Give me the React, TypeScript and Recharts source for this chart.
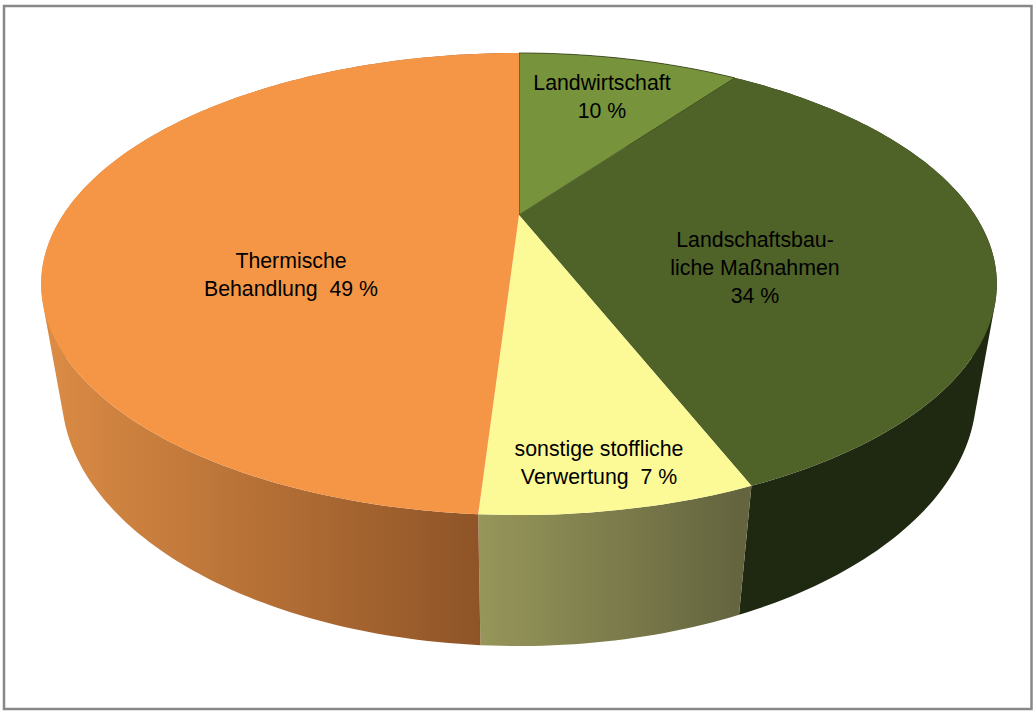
import { PieChart, Pie } from 'recharts';

const categories = [
  'Landwirtschaft',
  'Landschaftsbauliche Maßnahmen',
  'sonstige stoffliche Verwertung',
  'Thermische Behandlung',
];
const shares = [10, 34, 7, 49];
const labelLines = [
  ['Landwirtschaft', '10 %'],
  ['Landschaftsbau-', 'liche Maßnahmen', '34 %'],
  ['sonstige stoffliche', 'Verwertung  7 %'],
  ['Thermische', 'Behandlung  49 %'],
];

const topColors = ['#77933c', '#4f6228', '#fcfa96', '#f59646'];
const wallLeftColors = ['#3d4c1e', '#1f2810', '#96965a', '#dc8c45'];
const wallRightColors = ['#3d4c1e', '#1f2810', '#64643f', '#8e5427'];
const wallRanges = [[519, 735], [739, 997], [481, 739], [41, 481]];
// label centre x and first baseline y for each slice
const labelAnchors = [[602, 90], [755, 247], [599, 456], [291, 268]];

const chartData = categories.map((name, i) => ({ name, share: shares[i] }));

const WIDTH = 1035;
const HEIGHT = 711;
const CX = 519;
const CY = 215;
const RADIUS = 456;

// 3D perspective of the disc: nearer points grow, the wall runs to a vanishing point below
const TILT_Y = 146.2;
const TILT_W = -0.2987;
const WALL_W = 0.0406;
const WALL_Y = 118.1;

const project = (cx: number, cy: number, r: number, deg: number, wall = false) => {
  const rad = (deg * Math.PI) / 180;
  const ux = Math.cos(rad);
  const uy = -Math.sin(rad);
  const w = 1 + TILT_W * uy + (wall ? WALL_W : 0);
  return {
    x: cx + (r * ux) / w,
    y: (cy + TILT_Y * uy + (wall ? WALL_Y : 0)) / w,
  };
};

const rimAngles = (start: number, end: number) => {
  const steps = Math.max(2, Math.ceil(Math.abs(end - start)));
  return Array.from({ length: steps + 1 }, (_, i) => start + ((end - start) * i) / steps);
};

function TopSector(props: any) {
  const { cx, cy, outerRadius, startAngle, endAngle, index } = props;
  const rim = rimAngles(startAngle, endAngle).map((a) => project(cx, cy, outerRadius, a));
  const d = `M${cx},${cy} ` + rim.map((p) => `L${p.x},${p.y}`).join(' ') + ' Z';
  // only the small green wedge has a visible dark outline
  const outlined = index === 0;
  return (
    <path
      d={d}
      fill={topColors[index]}
      stroke={outlined ? '#2f3a18' : 'none'}
      strokeWidth={outlined ? 1 : 0}
      strokeOpacity={0.75}
    />
  );
}

function WallSector(props: any) {
  const { cx, cy, outerRadius, startAngle, endAngle, index } = props;
  const angles = rimAngles(startAngle, endAngle);
  // one subpath per rim step, all wound the same way so the fold at the silhouette stays filled
  const quads = angles.slice(1).map((a, i) => {
    const pts = [
      project(cx, cy, outerRadius, angles[i]),
      project(cx, cy, outerRadius, a),
      project(cx, cy, outerRadius, a, true),
      project(cx, cy, outerRadius, angles[i], true),
    ];
    const area = pts.reduce((sum, p, j) => {
      const q = pts[(j + 1) % 4];
      return sum + p.x * q.y - q.x * p.y;
    }, 0);
    const ordered = area < 0 ? [...pts].reverse() : pts;
    return 'M' + ordered.map((p) => `${p.x},${p.y}`).join(' L') + ' Z';
  });
  return <path d={quads.join(' ')} fill={`url(#wall-${index})`} />;
}

function SliceLabel(props: any) {
  const { index } = props;
  const [x, y] = labelAnchors[index];
  return (
    <text
      x={x}
      y={y}
      textAnchor="middle"
      fontFamily="'Liberation Sans', Arial, sans-serif"
      fontSize={21.3}
      fill="#000"
      style={{ whiteSpace: 'pre' }}
    >
      {labelLines[index].map((line, i) => (
        <tspan key={line} x={x} y={y + i * 28}>
          {line}
        </tspan>
      ))}
    </text>
  );
}

export default function App() {
  return (
    <div style={{ position: 'absolute', left: 0, top: 0, width: WIDTH, height: HEIGHT, background: '#fff' }}>
      <PieChart width={WIDTH} height={HEIGHT} margin={{ top: 0, right: 0, bottom: 0, left: 0 }}>
        <defs>
          {categories.map((name, i) => (
            <linearGradient
              key={name}
              id={`wall-${i}`}
              gradientUnits="userSpaceOnUse"
              x1={wallRanges[i][0]}
              x2={wallRanges[i][1]}
              y1={0}
              y2={0}
            >
              <stop offset="0%" stopColor={wallLeftColors[i]} />
              <stop offset="100%" stopColor={wallRightColors[i]} />
            </linearGradient>
          ))}
        </defs>
        <rect x={4} y={6} width={1027.5} height={703} fill="none" stroke="#888" strokeWidth={2.5} />
        <Pie
          data={chartData}
          dataKey="share"
          nameKey="name"
          cx={CX}
          cy={CY}
          outerRadius={RADIUS}
          startAngle={90}
          endAngle={-270}
          shape={WallSector}
          inactiveShape={WallSector}
          isAnimationActive={false}
          legendType="none"
        />
        <Pie
          data={chartData}
          dataKey="share"
          nameKey="name"
          cx={CX}
          cy={CY}
          outerRadius={RADIUS}
          startAngle={90}
          endAngle={-270}
          shape={TopSector}
          inactiveShape={TopSector}
          label={SliceLabel}
          labelLine={false}
          isAnimationActive={false}
          legendType="none"
        />
      </PieChart>
    </div>
  );
}
